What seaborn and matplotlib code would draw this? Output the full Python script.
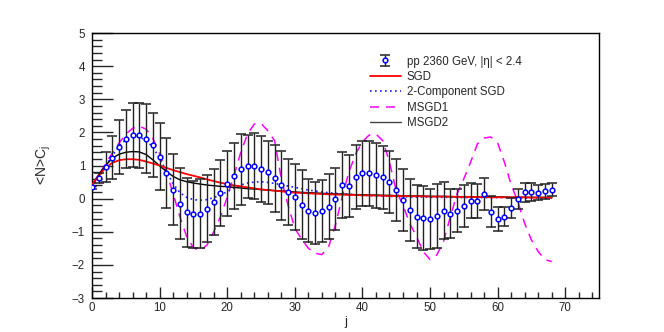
import numpy as np
import pandas as pd
import matplotlib
matplotlib.use("Agg")
import matplotlib.pyplot as plt
import seaborn as sns
from matplotlib.ticker import MultipleLocator

# data points: <N>C_j for pp 2360 GeV, |eta| < 2.4
j_data = list(range(69))
c_data = [0.34, 0.62, 0.95, 1.23, 1.55, 1.81, 1.91, 1.91, 1.81, 1.62,
          1.27, 0.78, 0.27, -0.15, -0.41, -0.47, -0.45, -0.30, -0.10, 0.18,
          0.45, 0.68, 0.89, 0.97, 0.98, 0.89, 0.79, 0.61, 0.40, 0.21,
          0.04, -0.18, -0.36, -0.43, -0.38, -0.24, -0.02, 0.42, 0.39, 0.65,
          0.76, 0.76, 0.70, 0.65, 0.51, 0.26, -0.05, -0.35, -0.54, -0.58,
          -0.61, -0.53, -0.36, -0.45, -0.36, -0.23, -0.06, -0.06, 0.14, -0.40,
          -0.61, -0.54, -0.28, 0.00, 0.19, 0.20, 0.18, 0.22, 0.27]
c_err = [0.05, 0.15, 0.45, 0.65, 0.82, 0.88, 0.97, 0.98, 1.04, 0.98,
         1.00, 1.05, 1.07, 1.07, 1.04, 1.01, 1.05, 1.02, 1.00, 1.00,
         0.98, 1.00, 1.07, 0.95, 1.00, 1.00, 0.96, 1.00, 1.05, 1.00,
         1.00, 1.03, 0.96, 0.94, 0.94, 0.98, 0.94, 1.00, 0.94, 0.96,
         0.98, 0.98, 0.98, 0.95, 0.93, 0.94, 0.94, 0.94, 0.94, 0.96,
         0.90, 0.97, 0.85, 0.75, 0.65, 0.64, 0.52, 0.51, 0.48, 0.47,
         0.37, 0.30, 0.31, 0.30, 0.28, 0.27, 0.22, 0.22, 0.20]

# fitted curves, read at integer j
j_fit = list(range(69))
sgd = [0.42, 0.70, 0.93, 1.08, 1.16, 1.19, 1.19, 1.17, 1.12, 1.06,
       1.00, 0.93, 0.86, 0.80, 0.74, 0.69, 0.64, 0.58, 0.53, 0.48,
       0.44, 0.40, 0.37, 0.34, 0.31, 0.28, 0.26, 0.24, 0.22, 0.20,
       0.18, 0.17, 0.16, 0.15, 0.14, 0.13, 0.12, 0.12, 0.11, 0.11,
       0.10, 0.10, 0.09, 0.09, 0.08, 0.08, 0.08, 0.07, 0.07, 0.07,
       0.06, 0.06, 0.06, 0.06, 0.05, 0.05, 0.05, 0.05, 0.05, 0.04,
       0.04, 0.04, 0.04, 0.04, 0.04, 0.03, 0.03, 0.03, 0.03]
sgd2 = [0.35, 0.65, 0.98, 1.30, 1.58, 1.78, 1.87, 1.86, 1.76, 1.55,
        1.22, 0.82, 0.45, 0.18, 0.04, -0.03, -0.05, -0.03, 0.03, 0.11,
        0.21, 0.32, 0.41, 0.47, 0.50, 0.51, 0.49, 0.46, 0.42, 0.38,
        0.34, 0.30, 0.26, 0.23, 0.20, 0.18, 0.16, 0.14, 0.13, 0.11,
        0.10, 0.09, 0.08, 0.08, 0.07, 0.06, 0.06, 0.05, 0.05, 0.05,
        0.04, 0.04, 0.04, 0.04, 0.03, 0.03, 0.03, 0.03, 0.03, 0.03,
        0.03, 0.03, 0.02, 0.02, 0.02, 0.02, 0.02, 0.02, 0.02]
msgd1 = [0.37, 0.72, 1.05, 1.38, 1.68, 1.95, 2.12, 2.18, 2.10, 1.82,
         1.35, 0.80, 0.15, -0.55, -1.15, -1.48, -1.58, -1.40, -1.00, -0.55,
         0.05, 0.70, 1.40, 1.95, 2.25, 2.27, 2.05, 1.75, 0.60, -0.20,
         -0.90, -1.22, -1.50, -1.65, -1.69, -1.45, -0.80, 0.05, 0.80, 1.35,
         1.72, 1.92, 1.95, 1.75, 1.10, 0.24, -0.20, -0.75, -1.15, -1.60,
         -1.84, -1.70, -1.29, -0.55, 0.15, 0.60, 1.10, 1.65, 1.83, 1.86,
         1.68, 1.10, 0.42, -0.10, -0.75, -1.25, -1.60, -1.84, -1.90]
msgd2 = [0.42, 0.73, 1.00, 1.22, 1.34, 1.40, 1.42, 1.41, 1.33, 1.17,
         0.99, 0.82, 0.67, 0.57, 0.51, 0.47, 0.44, 0.41, 0.39, 0.37,
         0.36, 0.34, 0.32, 0.30, 0.29, 0.27, 0.26, 0.24, 0.23, 0.22,
         0.20, 0.19, 0.18, 0.17, 0.16, 0.15, 0.14, 0.14, 0.13, 0.12,
         0.12, 0.11, 0.11, 0.10, 0.10, 0.09, 0.09, 0.08, 0.08, 0.08,
         0.07, 0.07, 0.07, 0.06, 0.06, 0.06, 0.06, 0.05, 0.05, 0.05,
         0.05, 0.05, 0.04, 0.04, 0.04, 0.04, 0.04, 0.04, 0.03]

labels = ["pp 2360 GeV, |\u03b7| < 2.4", "SGD", "2-Component SGD", "MSGD1", "MSGD2"]

sns.set_style("ticks")
plt.rcParams['font.family'] = ['Liberation Sans', 'DejaVu Sans']
plt.rcParams['font.size'] = 8.3

fig = plt.figure(figsize=(6.64, 3.32), dpi=100)
ax = fig.add_axes([0.1386, 0.1024, 0.7636, 0.7982])

fits = pd.DataFrame({"j": j_fit, "SGD": sgd, "2-Component SGD": sgd2,
                     "MSGD1": msgd1, "MSGD2": msgd2})

sns.lineplot(data=fits, x="j", y="MSGD1", ax=ax, color="#ff00ff", lw=1.1,
             linestyle=(0, (6, 4.5)), zorder=2)
sns.lineplot(data=fits, x="j", y="2-Component SGD", ax=ax, color="#1a1aff", lw=1.2,
             linestyle=(0, (1, 2)), zorder=3)
sns.lineplot(data=fits, x="j", y="MSGD2", ax=ax, color="black", lw=1.0, zorder=3)
sns.lineplot(data=fits, x="j", y="SGD", ax=ax, color="#ff0000", lw=1.3, zorder=3)

eb = ax.errorbar(j_data, c_data, yerr=c_err, fmt="o", ms=3.4, mfc="white",
                 mec="#0000ff", mew=1.1, ecolor="#222222", elinewidth=1.0,
                 capsize=3.4, capthick=1.0, zorder=4)

ax.set_xlim(0, 75)
ax.set_ylim(-3, 5)
ax.xaxis.set_major_locator(MultipleLocator(10))
ax.xaxis.set_minor_locator(MultipleLocator(2))
ax.yaxis.set_major_locator(MultipleLocator(1))
ax.yaxis.set_minor_locator(MultipleLocator(0.2))
ax.tick_params(axis="x", which="major", direction="in", length=8, width=1, pad=3)
ax.tick_params(axis="x", which="minor", direction="in", length=4, width=1)
ax.tick_params(axis="y", which="major", direction="in", length=15, width=1, pad=5)
ax.tick_params(axis="y", which="minor", direction="in", length=7.5, width=1)
for s in ax.spines.values():
    s.set_linewidth(1.0)
    s.set_color("black")

ax.set_xlabel("j", labelpad=1, fontsize=9.5)
ax.set_ylabel("<N>C$_\\mathregular{j}$", labelpad=14, fontsize=10)

handles = [eb,
           plt.Line2D([], [], color="#ff0000", lw=1.3),
           plt.Line2D([], [], color="#1a1aff", lw=1.2, linestyle=(0, (1, 2))),
           plt.Line2D([], [], color="#ff00ff", lw=1.1, linestyle=(0, (6, 4.5))),
           plt.Line2D([], [], color="#444444", lw=1.0)]
ax.legend(handles, labels, loc="upper left", bbox_to_anchor=(0.548, 0.915),
          frameon=False, borderpad=0, borderaxespad=0, handlelength=2.7,
          handletextpad=0.5, labelspacing=0.3, fontsize=8.3)

fig.savefig("out.png", dpi=100)
